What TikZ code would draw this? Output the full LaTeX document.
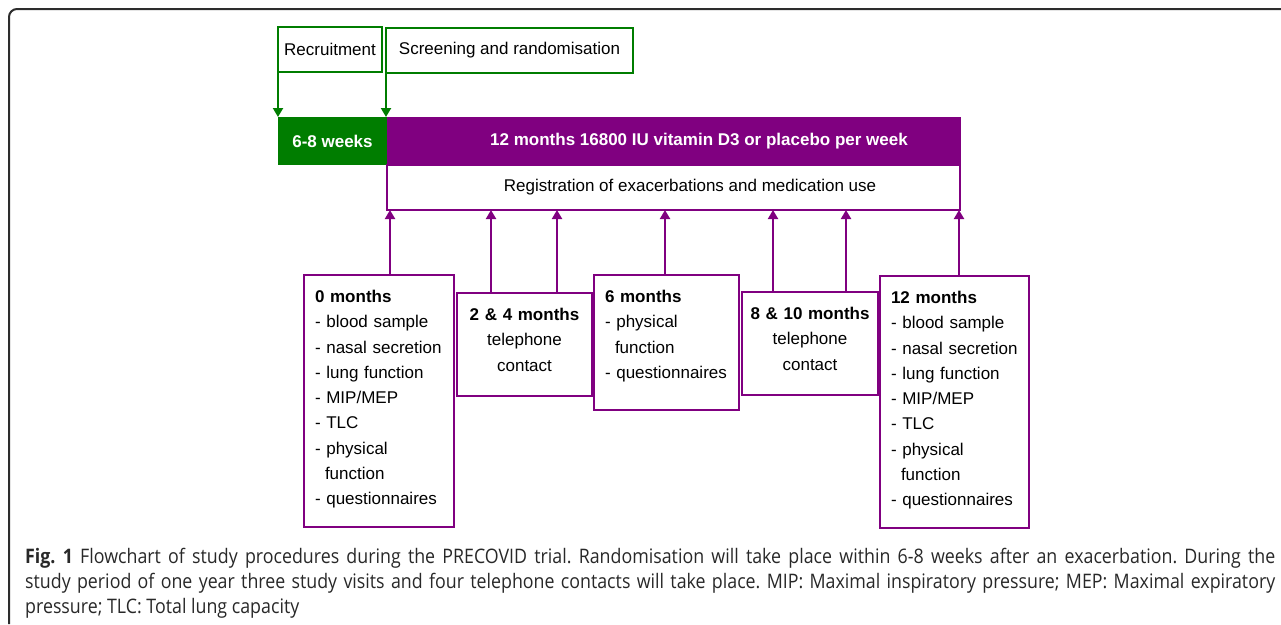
\documentclass[tikz,border=0pt]{standalone}
\usepackage{fontspec}
\setmainfont{Liberation Sans}
\newfontfamily\capfont[FakeStretch=0.89]{Open Sans}
\usepackage{tikz}
\usetikzlibrary{arrows.meta}
\definecolor{trialgreen}{RGB}{0,125,0}
\definecolor{trialpurple}{RGB}{128,0,128}
\definecolor{framegray}{RGB}{45,45,45}
\definecolor{captext}{RGB}{40,40,40}
\frenchspacing

\tikzset{
	phase/.style={anchor=north west, outer sep=0pt, inner sep=0pt, text=white, font=\fontsize{17}{25.25}\selectfont\bfseries},
	stage/.style={draw=trialgreen, line width=2pt, anchor=north west, outer sep=0pt, inner sep=0pt},
	visit/.style={draw=trialpurple, line width=2pt, anchor=north west, outer sep=0pt, inner xsep=11pt, inner ysep=4pt, text height=23.5pt},
	upline/.style={draw=trialpurple, line width=2pt, -{Triangle[width=10pt,length=9pt]}},
	downline/.style={draw=trialgreen, line width=2pt, -{Triangle[width=10pt,length=9pt]}},
	capline/.style={anchor=base west, inner sep=0pt, text=captext, font=\capfont\fontsize{20}{25}\selectfont}
}
\newcommand{\cnt}{\hspace*{10pt}}

\begin{document}
\begin{tikzpicture}[x=1pt, y=-1pt, font=\fontsize{17}{25.25}\selectfont]
	\useasboundingbox (0,0) rectangle (1281,624);
	\draw[framegray, line width=2pt, rounded corners=8pt] (9,624) -- (9,9) -- (1281,9);

	% top row
	\node[stage, minimum width=104pt, minimum height=45pt] (rec) at (278,27) {Recruitment};
	\node[stage, minimum width=247pt, minimum height=45pt] (scr) at (386,28) {Screening and randomisation};

	\node[phase, fill=trialgreen, minimum width=109pt, minimum height=48pt] (wk) at (278,117) {6-8 weeks};
	\node[draw=trialpurple, line width=2pt, anchor=north west, outer sep=0pt, minimum width=573pt, minimum height=45pt] (reg) at (387,165) {\hspace*{33pt}Registration of exacerbations and medication use};
	\node[phase, fill=trialpurple, minimum width=574pt, minimum height=48pt] (pur) at (387,117) {\hspace*{50pt}12 months 16800 IU vitamin D3 or placebo per week};

	% visits
	\node[visit, text width=128pt, text depth=220.5pt, align=left] (b0) at (304,275) {\textbf{0 months}\\- blood sample\\- nasal secretion\\- lung function\\- MIP/MEP\\- TLC\\- physical\\\cnt function\\- questionnaires};
	\node[visit, text width=113pt, text depth=71.5pt, align=center] (b24) at (457,293) {\textbf{2 \& 4 months}\\telephone\\contact};
	\node[visit, text width=123pt, text depth=103.5pt, align=left] (b6) at (594,275) {\textbf{6 months}\\- physical\\\cnt function\\- questionnaires};
	\node[visit, inner xsep=6pt, text width=124pt, text depth=71.5pt, align=center] (b810) at (742,292) {\textbf{8 \& 10 months}\\telephone\\contact};
	\node[visit, text width=127pt, text depth=220.5pt, align=left] (b12) at (880,276) {\textbf{12 months}\\- blood sample\\- nasal secretion\\- lung function\\- MIP/MEP\\- TLC\\- physical\\\cnt function\\- questionnaires};

	\draw[downline] (rec.south west) -- (wk.north west);
	\draw[downline] (scr.south west) -- (scr.south west |- wk.north);

	\draw[upline] ([xshift=3pt]reg.south west |- b0.north) -- ([xshift=3pt]reg.south west);
	\draw[upline] ([xshift=-33.5pt]b24.north) -- ([xshift=-33.5pt]b24.north |- reg.south);
	\draw[upline] ([xshift=32.5pt]b24.north) -- ([xshift=32.5pt]b24.north |- reg.south);
	\draw[upline] ([xshift=-1.5pt]b6.north) -- ([xshift=-1.5pt]b6.north |- reg.south);
	\draw[upline] ([xshift=-37pt]b810.north) -- ([xshift=-37pt]b810.north |- reg.south);
	\draw[upline] ([xshift=36pt]b810.north) -- ([xshift=36pt]b810.north |- reg.south);
	\draw[upline] ([xshift=-1pt]reg.south east |- b12.north) -- ([xshift=-1pt]reg.south east);

	% caption
	\node[capline] (cap1) at (25,563) {\makebox[1250pt][s]{\textbf{Fig.~1} Flowchart of study procedures during the PRECOVID trial. Randomisation will take place within 6-8 weeks after an exacerbation. During the}};
	\node[capline] (cap2) at (25,588) {\makebox[1250pt][s]{study period of one year three study visits and four telephone contacts will take place. MIP: Maximal inspiratory pressure; MEP: Maximal expiratory}};
	\node[capline] (cap3) at (25,613) {pressure; TLC: Total lung capacity};
\end{tikzpicture}
\end{document}
